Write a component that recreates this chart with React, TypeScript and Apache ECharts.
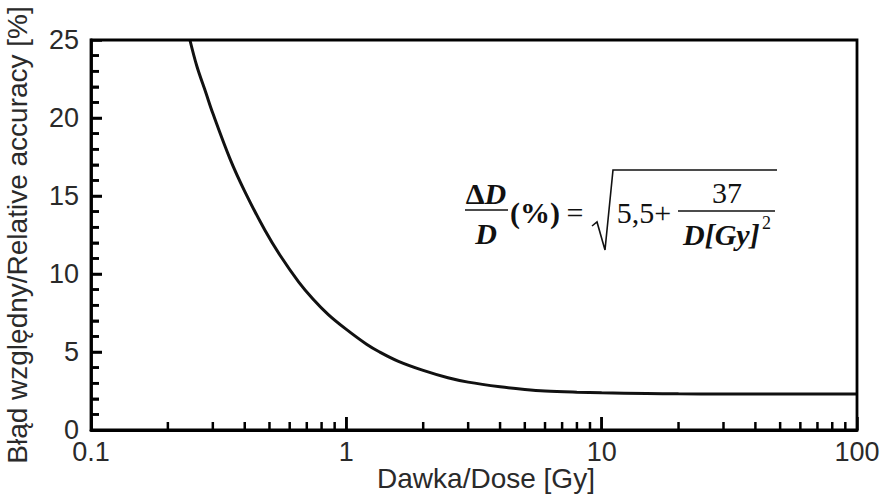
import React, { useEffect, useRef } from "react";
import * as echarts from "echarts";

// Curve: dose [Gy] and relative accuracy [%]
const doses = [0.244, 0.26, 0.282, 0.3, 0.35, 0.4, 0.48, 0.55, 0.65, 0.74, 0.85, 1.0, 1.2, 1.35, 1.6, 2.0, 2.5, 3.0, 4.0, 5.0, 6.0, 8.0, 10, 15, 20, 30, 50, 100];
const errors = [25, 23.3, 21.6, 20.3, 17.4, 15.3, 12.8, 11.2, 9.5, 8.4, 7.4, 6.45, 5.5, 5.0, 4.4, 3.82, 3.35, 3.07, 2.77, 2.6, 2.5, 2.42, 2.38, 2.34, 2.32, 2.31, 2.3, 2.3];

// Axis ranges, ticks and labels
const xRange = [0.1, 100];
const yRange = [0, 25];
const xTickValues = [0.1, 1, 10, 100];
const xTickLabels = ["0.1", "1", "10", "100"];
const xMajorTicks = [1, 10];
const xMinorTicks = [0.2, 0.3, 0.4, 0.5, 0.6, 0.7, 0.8, 0.9, 2, 3, 4, 5, 6, 7, 8, 9, 20, 30, 40, 50, 60, 70, 80, 90];
const yTickLabels = ["0", "5", "10", "15", "20", "25"];
const yMajorTicks = [5, 10, 15, 20];
const yMinorTicks = [1, 2, 3, 4, 6, 7, 8, 9, 11, 12, 13, 14, 16, 17, 18, 19, 21, 22, 23, 24];

const xTitle = "Dawka/Dose [Gy]";
const yTitle = "Błąd względny/Relative accuracy [%]";

export default function App() {
  const ref = useRef<HTMLDivElement>(null);

  useEffect(() => {
    document.body.style.margin = "0";
    if (!ref.current) return;
    const chart = echarts.init(ref.current, undefined, { renderer: "svg" });
    const sans = "Liberation Sans";
    const serif = "Liberation Serif";
    const fs = 30;
    const ink = "#2a2a2a";

    // tick rows: [x, y, direction (0 = up from x axis, 1 = right from y axis), length]
    const tickRows: number[][] = [
      ...xMinorTicks.map((v) => [v, yRange[0], 0, 8]),
      ...xMajorTicks.map((v) => [v, yRange[0], 0, 13]),
      ...yMinorTicks.map((v) => [xRange[0], v, 1, 8]),
      ...yMajorTicks.map((v) => [xRange[0], v, 1, 11]),
    ];

    chart.setOption({
      animation: false,
      backgroundColor: "#ffffff",
      grid: { left: 91, right: 28, top: 40, bottom: 64, outerBoundsMode: "none", containLabel: false },
      xAxis: {
        type: "log",
        logBase: 10,
        min: xRange[0],
        max: xRange[1],
        axisLine: { show: true, onZero: false, lineStyle: { color: "#000", width: 2.8 } },
        axisTick: { show: true, inside: true, length: 13, lineStyle: { color: "#000", width: 2.5 } },
        splitLine: { show: false },
        axisLabel: {
          fontFamily: sans,
          fontSize: 27,
          color: ink,
          margin: 8,
          formatter: (v: number) => {
            const i = xTickValues.findIndex((t) => Math.abs(t - v) / t < 1e-6);
            return i >= 0 ? xTickLabels[i] : "";
          },
        },
      },
      yAxis: {
        type: "value",
        min: yRange[0],
        max: yRange[1],
        interval: 5,
        name: yTitle,
        nameLocation: "middle",
        nameGap: 60,
        nameTextStyle: { fontFamily: sans, fontSize: 28, color: ink },
        axisLine: { show: true, onZero: false, lineStyle: { color: "#000", width: 2.8 } },
        axisTick: { show: true, inside: true, length: 11, lineStyle: { color: "#000", width: 2.5 } },
        minorTick: { show: true, splitNumber: 5, length: 8, lineStyle: { color: "#000", width: 2.5 } },
        splitLine: { show: false },
        axisLabel: {
          fontFamily: sans,
          fontSize: 27,
          color: ink,
          margin: 12,
          formatter: (v: number) => yTickLabels[Math.round(v / 5)] ?? "",
        },
      },
      series: [
        {
          type: "line",
          data: doses.map((d, i) => [d, errors[i]]),
          smooth: 0.35,
          symbol: "none",
          clip: true,
          lineStyle: { color: "#111", width: 3 },
          silent: true,
        },
        {
          type: "custom",
          silent: true,
          z: 10,
          data: tickRows,
          renderItem: (_params: any, api: any) => {
            const p = api.coord([api.value(0), api.value(1)]);
            const dir = api.value(2);
            const len = api.value(3);
            const shape =
              dir === 0
                ? { x1: p[0], y1: p[1], x2: p[0], y2: p[1] - len }
                : { x1: p[0], y1: p[1], x2: p[0] + len, y2: p[1] };
            return { type: "line", shape, style: { stroke: "#000", lineWidth: 2.5, fill: null } };
          },
        },
        {
          type: "custom",
          silent: true,
          z: 11,
          data: [[xRange[0], yRange[0], xRange[1], yRange[1]]],
          renderItem: (_params: any, api: any) => {
            const p0 = api.coord([api.value(0), api.value(1)]);
            const p1 = api.coord([api.value(2), api.value(3)]);
            return {
              type: "rect",
              shape: { x: p0[0], y: p1[1], width: p1[0] - p0[0], height: p0[1] - p1[1] },
              style: { stroke: "#000", lineWidth: 2.8, fill: null },
            };
          },
        },
      ],
      graphic: [
        { type: "text", x: 486, y: 478, style: { text: xTitle, font: `28px "${sans}"`, fill: ink, align: "center", verticalAlign: "middle" } },
        {
          type: "text",
          x: 486,
          y: 193,
          style: {
            text: "{a|Δ}{b|D}",
            align: "center",
            verticalAlign: "middle",
            rich: {
              a: { fontFamily: serif, fontWeight: "bold", fontSize: fs, fill: "#111" },
              b: { fontFamily: serif, fontWeight: "bold", fontStyle: "italic", fontSize: fs, fill: "#111" },
            },
          },
        },
        { type: "line", shape: { x1: 465, y1: 210, x2: 508, y2: 210 }, style: { stroke: "#111", lineWidth: 1.6 } },
        { type: "text", x: 486, y: 233, style: { text: "D", font: `italic bold ${fs}px "${serif}"`, fill: "#111", align: "center", verticalAlign: "middle" } },
        { type: "text", x: 535, y: 212, style: { text: "(%)", font: `bold ${fs}px "${serif}"`, fill: "#111", align: "center", verticalAlign: "middle" } },
        { type: "text", x: 575, y: 212, style: { text: "=", font: `${fs}px "${serif}"`, fill: "#111", align: "center", verticalAlign: "middle" } },
        {
          type: "polyline",
          shape: { points: [[592, 226], [597, 222], [605, 250], [613, 170], [777, 170]] },
          style: { stroke: "#111", lineWidth: 1.6, fill: null },
        },
        { type: "text", x: 644, y: 212, style: { text: "5,5+", font: `${fs}px "${serif}"`, fill: "#111", align: "center", verticalAlign: "middle" } },
        { type: "line", shape: { x1: 678, y1: 211, x2: 775, y2: 211 }, style: { stroke: "#111", lineWidth: 1.6 } },
        { type: "text", x: 727, y: 192, style: { text: "37", font: `${fs}px "${serif}"`, fill: "#111", align: "center", verticalAlign: "middle" } },
        { type: "text", x: 683, y: 234, style: { text: "D[Gy]", font: `italic bold ${fs}px "${serif}"`, fill: "#111", align: "left", verticalAlign: "middle" } },
        { type: "text", x: 762, y: 223, style: { text: "2", font: `18px "${serif}"`, fill: "#111", align: "left", verticalAlign: "middle" } },
      ],
    });
    return () => chart.dispose();
  }, []);

  return <div ref={ref} style={{ width: 885, height: 494 }} />;
}
